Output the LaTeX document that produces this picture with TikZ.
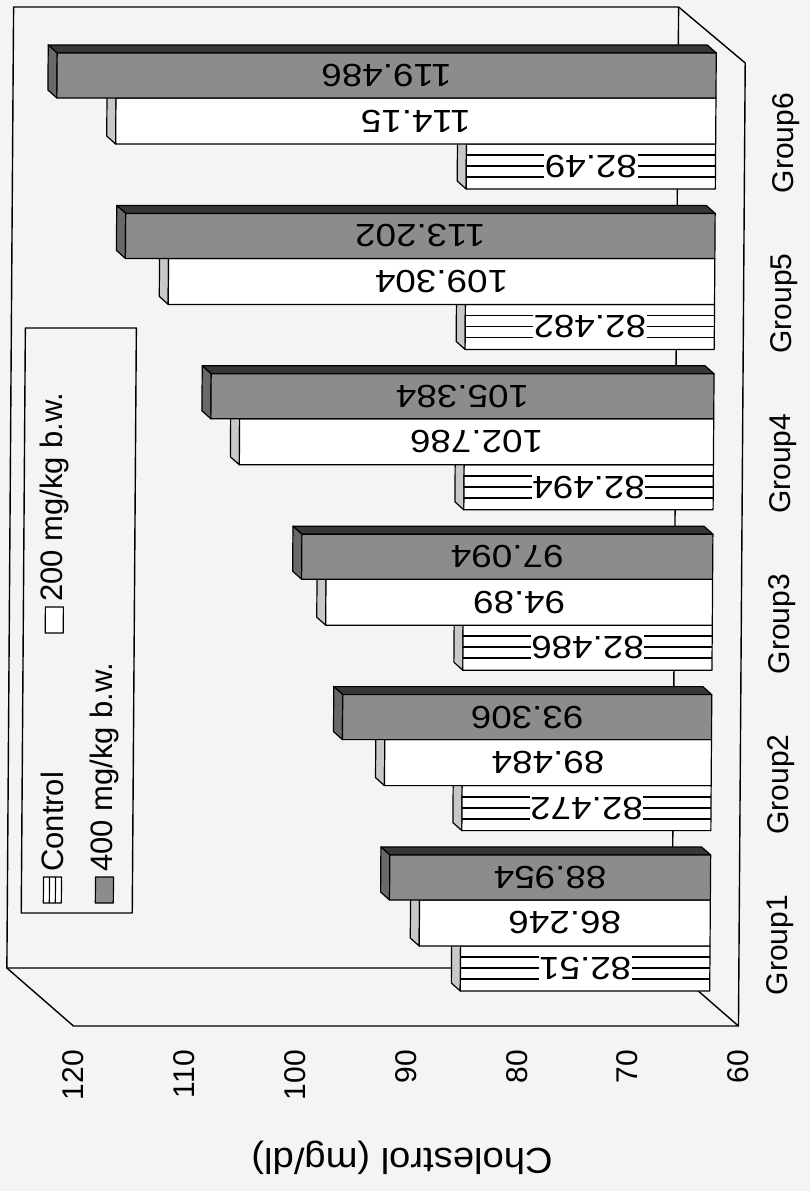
\documentclass[tikz,border=0pt]{standalone}
\usepackage{fontspec}
\setmainfont{Liberation Sans}
\definecolor{bg}{RGB}{244,244,244}
\definecolor{barfront}{RGB}{140,140,140}
\definecolor{bartop}{RGB}{55,55,55}
\definecolor{bartip}{RGB}{105,105,105}
\definecolor{lighttip}{RGB}{200,200,200}
\begin{document}
\begin{tikzpicture}[x=1pt,y=-1pt,
  edge/.style={draw=black,line width=1.4pt,line join=round},
  face/.style={draw=black,line width=1.2pt,line join=round},
  hline/.style={draw=black,line width=1.8pt},
  ticklab/.style={rotate=90,anchor=east,inner sep=0pt,font=\fontsize{30}{36}\selectfont},
  grouplab/.style={rotate=90,inner sep=0pt,font=\fontsize{30}{36}\selectfont},
  barlab/.style={rotate=180,xscale=1.15,inner sep=0pt,font=\fontsize{32}{34}\selectfont},
  leglab/.style={rotate=90,anchor=west,inner sep=0pt,font=\fontsize{31}{36}\selectfont}]
\fill[bg] (0,0) rectangle (810,1191);
\useasboundingbox (0,0) rectangle (810,1191);
\begin{scope}[shift={(6.65pt,0pt)},xslant=0.007]
% walls
\draw[edge] (7,968) -- (7,7) -- (672,7) -- (739,63) -- (739,1026) -- (74,1026) -- cycle;
\draw[edge] (672,7) -- (672,968) -- (7,968);
\draw[edge] (672,968) -- (739,1026);
% bars
\foreach \g/\c/\w/\d in {1/82.51/86.246/88.954,2/82.472/89.484/93.306,3/82.486/94.89/97.094,
                          4/82.494/102.786/105.384,5/82.482/109.304/113.202,6/82.49/114.15/119.486}{
  \pgfmathsetmacro\b{45+(6-\g)*160.4}
  \pgfmathsetmacro\xc{710-11.08*(\c-60)}
  \pgfmathsetmacro\xw{710-11.08*(\w-60)}
  \pgfmathsetmacro\xd{710-11.08*(\d-60)}
  % control bar
  \path[face,fill=lighttip] (\xc,\b+144) -- (\xc,\b+99) -- (\xc-9,\b+91) -- (\xc-9,\b+136) -- cycle;
  \path[face,fill=white] (\xc,\b+99) rectangle (710,\b+144);
  \foreach \k in {11,22,33}{\draw[hline] (\xc,\b+99+\k) -- (710,\b+99+\k);}
  \node[barlab,fill=white,inner xsep=0.5pt,inner ysep=1pt] (c\g) at ({(\xc+710)/2},\b+121.5) {\c};
  % 200 mg bar
  \path[face,fill=lighttip] (\xw,\b+99) -- (\xw,\b+53) -- (\xw-9,\b+45) -- (\xw-9,\b+91) -- cycle;
  \path[face,fill=white] (\xw,\b+53) rectangle (710,\b+99);
  \node[barlab] (w\g) at ({(\xw+710)/2},\b+76) {\w};
  % 400 mg bar
  \path[face,fill=bartop] (\xd,\b+8) -- (710,\b+8) -- (701,\b) -- (\xd-9,\b) -- cycle;
  \path[face,fill=bartip] (\xd,\b+53) -- (\xd,\b+8) -- (\xd-9,\b) -- (\xd-9,\b+45) -- cycle;
  \path[face,fill=barfront] (\xd,\b+8) rectangle (710,\b+53);
  \node[barlab] (d\g) at ({(\xd+710)/2},\b+30.5) {\d};
  % group label
  \node[grouplab] (grp\g) at (780,{143+(6-\g)*160.4}) {Group\g};
}
% tick labels
\foreach \v in {60,70,...,120}{
  \node[ticklab] (t\v) at ({739-11.08*(\v-60)},1050) {\v};
}
% legend
\draw[edge,fill=bg] (21,328) rectangle (132,913);
\draw[face,fill=white] (43,877) rectangle (61,903);
\foreach \q in {49,55}{\draw[line width=1.2pt] (\q,877) -- (\q,903);}
\node[leglab] (lc) at (52,872) {Control};
\draw[face,fill=white] (43,607) rectangle (61,633);
\node[leglab] (lw) at (52,602) {200 mg/kg b.w.};
\draw[face,fill=barfront] (95,877) rectangle (113,903);
\node[leglab] (ld) at (104,872) {400 mg/kg b.w.};
\end{scope}
% axis title
\node[rotate=180,xscale=1.06,inner sep=0pt,font=\fontsize{36}{42}\selectfont] (title) at (402,1158) {Cholestrol (mg/dl)};
\end{tikzpicture}
\end{document}
